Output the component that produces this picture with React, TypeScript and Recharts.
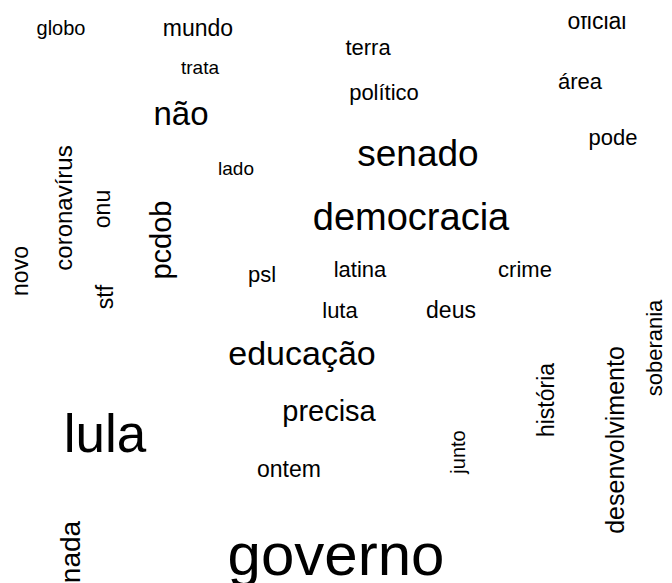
import React from "react";
import { ScatterChart, Scatter, XAxis, YAxis } from "recharts";

// Word cloud data
const words = [
  "globo", "mundo", "trata", "não", "lado", "oficial", "terra", "político",
  "área", "pode", "senado", "democracia", "latina", "crime", "psl", "luta",
  "deus", "educação", "lula", "precisa", "ontem", "governo",
  "coronavírus", "onu", "novo", "stf", "pcdob", "soberania",
  "desenvolvimento", "história", "junto", "nada",
];
// word placement (cloud layout coordinates)
const posX = [61, 198, 200, 181, 236, 597, 368, 384, 580, 613, 418, 411, 360, 525, 262, 340, 451, 302, 105, 329, 289, 336, 72, 110, 28, 113, 171, 662, 624, 554, 465, 80];
const posY = [35, 36, 74, 125, 175, 29, 55, 100, 89, 145, 166, 230, 277, 277, 282, 318, 318, 365, 452, 421, 477, 575, 208, 209, 271, 297, 240, 348, 440, 400, 452, 552];
// word weight (frequency)
const freq = [20, 23, 19, 33, 19, 23, 22, 22, 22, 22, 37, 38, 22, 22, 22, 22, 23, 34, 53, 29, 23, 60, 24, 23, 23, 23, 29, 22, 25, 23, 20, 28];
// 1 = vertical
const vertical = [0, 0, 0, 0, 0, 0, 0, 0, 0, 0, 0, 0, 0, 0, 0, 0, 0, 0, 0, 0, 0, 0, 1, 1, 1, 1, 1, 1, 1, 1, 1, 1];

const data = words.map((w, i) => ({ word: w, x: posX[i], y: posY[i], f: freq[i], v: vertical[i] }));

const WordShape = (props: any) => {
  const { cx, cy, payload } = props;
  const tr = payload.v ? `rotate(-90 ${cx} ${cy})` : undefined;
  return (
    <text
      x={cx}
      y={cy}
      fontSize={payload.f}
      textAnchor="middle"
      fontFamily="'Liberation Sans', Arial, sans-serif"
      fill="#000"
      transform={tr}
    >
      {payload.word}
    </text>
  );
};

export default function App() {
  return (
    <div style={{ position: "absolute", left: 0, top: 16, width: 672, height: 567, overflow: "hidden", background: "#fff" }}>
      <ScatterChart width={672} height={567} margin={{ top: 0, right: 0, bottom: 0, left: 0 }}>
        <XAxis type="number" dataKey="x" domain={[0, 672]} hide allowDataOverflow />
        <YAxis type="number" dataKey="y" domain={[16, 583]} reversed hide allowDataOverflow />
        <Scatter data={data} shape={WordShape} isAnimationActive={false} />
      </ScatterChart>
    </div>
  );
}
